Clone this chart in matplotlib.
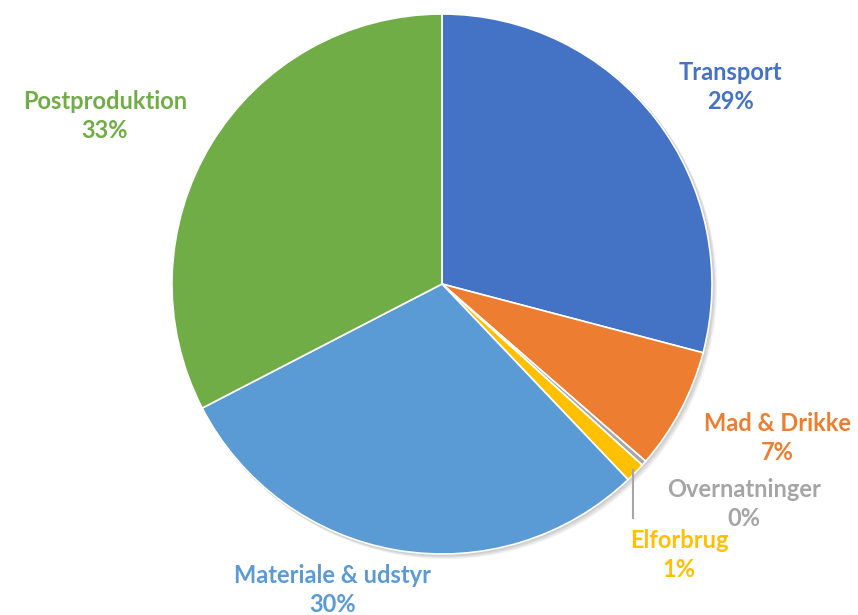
import matplotlib.pyplot as plt
import numpy as np

labels = ['Transport', 'Mad & Drikke', 'Overnatninger', 'Elforbrug', 'Materiale & udstyr', 'Postproduktion']
values = [29.1, 7.3, 0.3, 1.2, 29.5, 32.6]
colors = ['#4472C4', '#ED7D31', '#A5A5A5', '#FFC000', '#5B9BD5', '#70AD47']

# label centres in pixel coords (x, y from top)
label_pos = [(730, 87), (777, 438), (744, 504), (679, 555), (333, 590), (105, 116)]

plt.rcParams['font.family'] = ['Lato', 'DejaVu Sans']

fig = plt.figure(figsize=(8.58, 6.15), dpi=100)
ax = fig.add_axes([0, 0, 1, 1])

cx, cy, r = 442, 615 - 284, 270

# soft shadow
for i in range(4):
    ax.add_patch(plt.Circle((cx + 1 + i, cy - 1 - i), r + 1, color='black', alpha=0.05, lw=0, zorder=0))

ax.pie(values, colors=colors, startangle=90, counterclock=False, center=(cx, cy), radius=r,
       wedgeprops=dict(edgecolor='white', linewidth=1.2), frame=True)
ax.set_xlim(0, 858)
ax.set_ylim(0, 615)
ax.axis('off')

total = sum(values)
for lab, v, c, (x, y) in zip(labels, values, colors, label_pos):
    pct = int(v / total * 100 + 0.5)
    ax.text(x, 615 - y, lab + '\n' + str(pct) + '%', color=c, fontsize=17, fontweight='bold',
            ha='center', va='center', linespacing=1.3)

# leader line for Elforbrug
ax.plot([633, 633], [615 - 470, 615 - 518], color='#A6A6A6', lw=1.5)

fig.savefig('out.png', dpi=100)
